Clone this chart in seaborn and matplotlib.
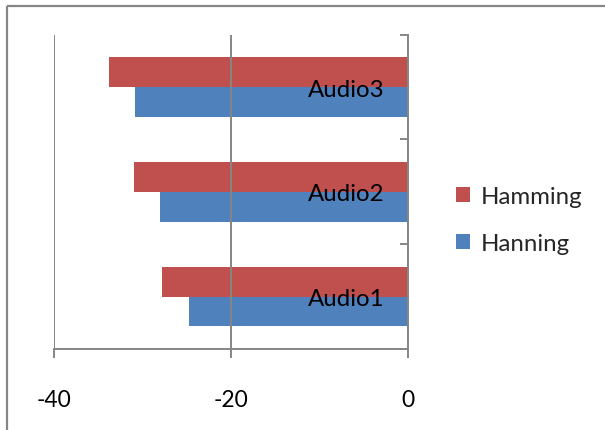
import matplotlib
matplotlib.use("Agg")
import matplotlib.pyplot as plt
from matplotlib.lines import Line2D
from matplotlib.ticker import FixedLocator
import pandas as pd
import seaborn as sns

# Data
categories = ["Audio3", "Audio2", "Audio1"]
hamming = [-33.8, -31.0, -27.8]
hanning = [-30.8, -28.0, -24.8]
series_names = ["Hamming", "Hanning"]
series_colors = ["#C0504D", "#4F81BD"]
x_ticks = [-40, -20, 0]

df = pd.DataFrame({
    "category": categories * 2,
    "value": hamming + hanning,
    "series": [series_names[0]] * len(categories) + [series_names[1]] * len(categories),
})

sns.set_style("white")
plt.rcParams["font.family"] = ["Lato", "DejaVu Sans"]

W, H = 605, 431
fig = plt.figure(figsize=(W / 100, H / 100), dpi=100)
ax = fig.add_axes([54 / W, (H - 350) / H, 354 / W, (350 - 35.7) / H])

sns.barplot(data=df, y="category", x="value", hue="series", order=categories,
            hue_order=series_names, palette=series_colors, width=0.57,
            orient="h", linewidth=0, saturation=1, ax=ax)

grey = "#868686"
ax.set_xlim(-40, 0)
ax.set_ylim(2.5, -0.5)
ax.set_xticks(x_ticks)
ax.set_xticklabels([str(t) for t in x_ticks])
ax.set_xlabel("")
ax.set_ylabel("")

# Vertical gridlines at the major x ticks, drawn over the bars
ax.xaxis.grid(True, color=grey, linewidth=1.4)
ax.yaxis.grid(False)
ax.set_axisbelow(False)

# Category axis sits at x = 0, labels to its left over the bars
for s in ["top", "right"]:
    ax.spines[s].set_visible(False)
ax.spines["left"].set_position(("data", 0))
for s in ["left", "bottom"]:
    ax.spines[s].set_color(grey)
    ax.spines[s].set_linewidth(1.4)

ax.yaxis.set_minor_locator(FixedLocator([-0.5, 0.5, 1.5, 2.5]))
ax.tick_params(axis="y", which="major", length=0, pad=17, labelsize=17.3, labelcolor="black")
ax.tick_params(axis="y", which="minor", left=True, length=5.5, width=1.4, color=grey, direction="out")
ax.tick_params(axis="x", which="major", bottom=True, length=6.5, width=1.4, color=grey,
               direction="out", pad=22, labelsize=16.5, labelcolor="black")

ax.legend(loc="center left", bbox_to_anchor=(456 / W, (H - 221) / H), bbox_transform=fig.transFigure,
          frameon=False, fontsize=17.3, handlelength=0.6, handleheight=0.6,
          handletextpad=0.45, labelspacing=1.1, borderaxespad=0, borderpad=0)

# Chart-area border (left and top edges; the rest lies outside the canvas)
x0, y0 = 6.5 / W, 1 - 6.5 / H
fig.add_artist(Line2D([x0, x0], [0, y0], transform=fig.transFigure, color=grey,
                      linewidth=1.6, solid_capstyle="butt"))
fig.add_artist(Line2D([x0, 1], [y0, y0], transform=fig.transFigure, color=grey,
                      linewidth=1.6, solid_capstyle="butt"))

fig.savefig("out.png", dpi=100, facecolor="white", edgecolor="white")
